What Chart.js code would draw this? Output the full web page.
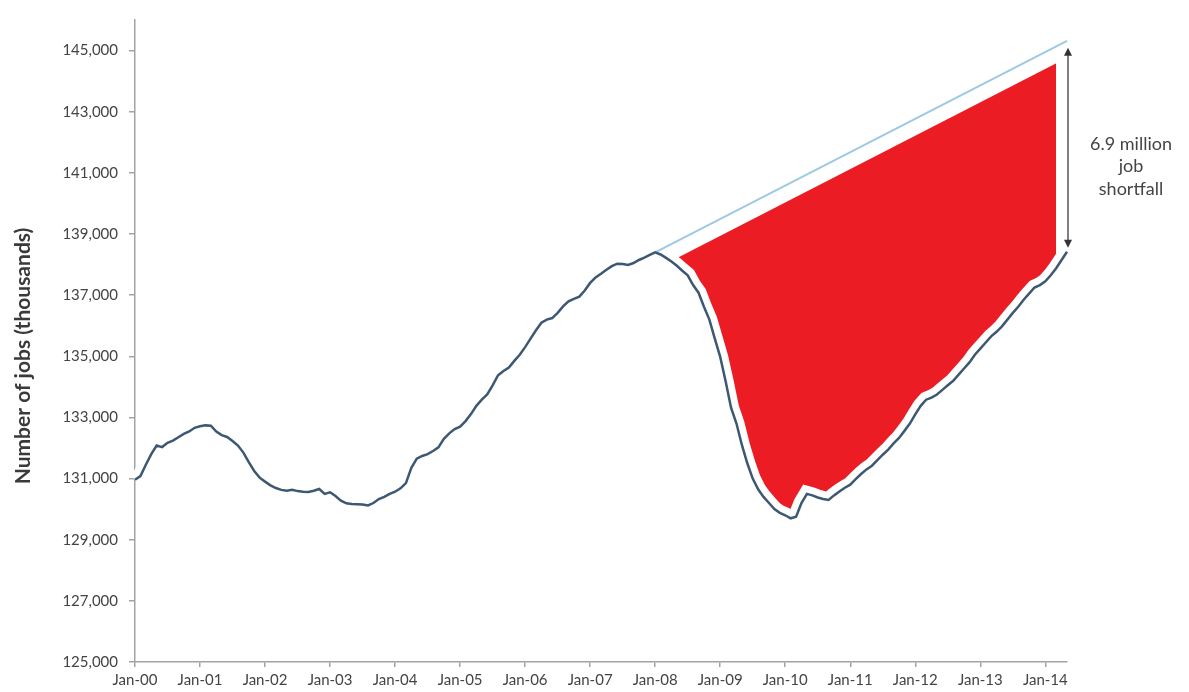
<!DOCTYPE html>
<html>
<head>
<meta charset="utf-8">
<title>Job shortfall</title>
<script src="https://cdn.jsdelivr.net/npm/chart.js"></script>
<style>
  html, body { margin: 0; padding: 0; background: #fff; }
  canvas { display: block; }
</style>
</head>
<body>
<canvas id="chart" width="1189" height="692"></canvas>
<script>
// Nonfarm payroll employment, thousands, monthly Jan 2000 - May 2014
const monthNames = ['Jan', 'Feb', 'Mar', 'Apr', 'May', 'Jun', 'Jul', 'Aug', 'Sep', 'Oct', 'Nov', 'Dec'];
const years = ['00', '01', '02', '03', '04', '05', '06', '07', '08', '09', '10', '11', '12', '13', '14'];
const payrolls = [
  130960, 131080, 131450, 131800, 132080, 132030, 132170, 132240, 132350, 132460, 132540, 132660, // 2000
  132710, 132740, 132730, 132540, 132420, 132360, 132230, 132080, 131850, 131540, 131250, 131030, // 2001
  130900, 130780, 130690, 130630, 130600, 130630, 130590, 130570, 130560, 130600, 130660, 130500, // 2002
  130550, 130430, 130280, 130190, 130170, 130160, 130150, 130120, 130200, 130330, 130400, 130500, // 2003
  130570, 130680, 130850, 131350, 131650, 131740, 131800, 131900, 132020, 132300, 132480, 132620, // 2004
  132700, 132880, 133110, 133380, 133580, 133750, 134050, 134380, 134520, 134630, 134850, 135050, // 2005
  135300, 135580, 135850, 136100, 136200, 136250, 136420, 136630, 136800, 136880, 136950, 137150, // 2006
  137400, 137580, 137700, 137830, 137950, 138030, 138020, 137990, 138050, 138150, 138230, 138320, // 2007
  138400, 138330, 138220, 138100, 137960, 137800, 137650, 137330, 137080, 136620, 136200, 135580, // 2008
  134980, 134180, 133320, 132800, 132100, 131500, 131000, 130650, 130400, 130200, 130000, 129880, // 2009
  129800, 129700, 129750, 130200, 130500, 130450, 130380, 130330, 130300, 130450, 130580, 130700, // 2010
  130800, 130980, 131150, 131300, 131420, 131600, 131780, 131950, 132150, 132330, 132560, 132800, // 2011
  133100, 133380, 133580, 133650, 133750, 133900, 134050, 134200, 134400, 134600, 134800, 135050, // 2012
  135250, 135450, 135650, 135800, 135980, 136200, 136420, 136620, 136850, 137050, 137250, 137330, // 2013
  137450, 137650, 137880, 138150, 138420                                                          // 2014
];

// Pre-recession trend, Jan-08 peak to May-14
const trendIndex = [96, 172];
const trendValues = [138400, 145320];

// Shaded shortfall follows the trend through Mar-14
const gapIndex = [96, 170];
const gapValues = [138400, 145140];

const yTicks = [125000, 127000, 129000, 131000, 133000, 135000, 137000, 139000, 141000, 143000, 145000];
const noteLines = ['6.9 million', 'job', 'shortfall'];
const yTitle = 'Number of jobs (thousands)';

const labels = [];
years.forEach(yr => monthNames.forEach(m => {
  if (labels.length < payrolls.length) labels.push(m + '-' + yr);
}));

function sparse(idx, vals) {
  const out = labels.map(() => null);
  idx.forEach((i, k) => { out[i] = vals[k]; });
  return out;
}
const trendData = sparse(trendIndex, trendValues);
const gapData = sparse(gapIndex, gapValues);

const FONT = "Lato, 'Open Sans', sans-serif";
const AXIS = '#a3a3a3';

// arrow + text on the right, rotated y title on the left
const notes = {
  id: 'notes',
  afterDraw(chart) {
    const {ctx, chartArea, scales: {x, y}} = chart;
    const ax = x.getPixelForValue(trendIndex[1]) + 1;
    const top = y.getPixelForValue(trendValues[1]) + 7;
    const bot = y.getPixelForValue(payrolls[payrolls.length - 1]) - 4;

    ctx.save();
    ctx.strokeStyle = '#555';
    ctx.fillStyle = '#333';
    ctx.lineWidth = 1.5;
    ctx.beginPath();
    ctx.moveTo(ax, top + 5);
    ctx.lineTo(ax, bot - 5);
    ctx.stroke();
    ctx.beginPath();
    ctx.moveTo(ax, top); ctx.lineTo(ax - 4, top + 8); ctx.lineTo(ax + 4, top + 8);
    ctx.closePath(); ctx.fill();
    ctx.beginPath();
    ctx.moveTo(ax, bot); ctx.lineTo(ax - 4, bot - 8); ctx.lineTo(ax + 4, bot - 8);
    ctx.closePath(); ctx.fill();

    ctx.fillStyle = '#444';
    ctx.font = '18px ' + FONT;
    ctx.textAlign = 'center';
    ctx.textBaseline = 'middle';
    const mid = (top + bot) / 2;
    noteLines.forEach((t, i) => ctx.fillText(t, ax + 63, mid - 4 + i * 22.5));

    ctx.translate(23, (chartArea.top + chartArea.bottom) / 2 + 15);
    ctx.rotate(-Math.PI / 2);
    ctx.font = 'bold 21px ' + FONT;
    ctx.fillStyle = '#3a3a3a';
    ctx.fillText(yTitle, 0, 0);
    ctx.restore();
  }
};

const line = { pointRadius: 0, pointHoverRadius: 0, tension: 0, fill: false };

new Chart(document.getElementById('chart'), {
  type: 'line',
  data: {
    labels: labels,
    datasets: [
      { ...line, label: 'Actual', data: payrolls, borderColor: '#3d5872', borderWidth: 2.5 },
      { ...line, label: 'Trend', data: trendData, borderColor: '#9ec8e4', borderWidth: 2, spanGaps: true },
      { ...line, label: 'actual halo', data: payrolls, borderColor: '#fff', borderWidth: 16 },
      { ...line, label: 'trend halo', data: trendData, borderColor: '#fff', borderWidth: 30, spanGaps: true },
      { ...line, label: 'Shortfall', data: gapData, borderColor: 'rgba(0,0,0,0)', borderWidth: 0,
        spanGaps: true, backgroundColor: '#ec1c24', fill: { target: 0 } }
    ]
  },
  options: {
    responsive: false,
    animation: false,
    devicePixelRatio: 1,
    events: [],
    layout: { padding: { top: 13, right: 122, left: 0, bottom: 0 } },
    plugins: { legend: { display: false }, tooltip: { enabled: false } },
    scales: {
      x: {
        type: 'category',
        offset: false,
        afterBuildTicks: s => { s.ticks = s.ticks.filter(t => t.value % 12 === 0); },
        afterFit: s => { s.height = 30; },
        border: { display: true, color: AXIS, width: 1.5 },
        grid: { display: true, drawOnChartArea: false, drawTicks: true, tickLength: 5, color: AXIS, lineWidth: 1.5 },
        ticks: { autoSkip: false, maxRotation: 0, padding: 4, color: '#444', font: { family: FONT, size: 15 } }
      },
      y: {
        min: 125000,
        max: 146000,
        afterBuildTicks: s => { s.ticks = yTicks.map(v => ({ value: v })); },
        afterFit: s => { s.width = 135; },
        border: { display: true, color: AXIS, width: 1.5 },
        grid: { display: true, drawOnChartArea: false, drawTicks: true, tickLength: 6, color: AXIS, lineWidth: 1.5 },
        ticks: {
          padding: 11, color: '#444', font: { family: FONT, size: 15 },
          callback: v => v.toLocaleString('en-US')
        }
      }
    }
  },
  plugins: [notes]
});
</script>
</body>
</html>
